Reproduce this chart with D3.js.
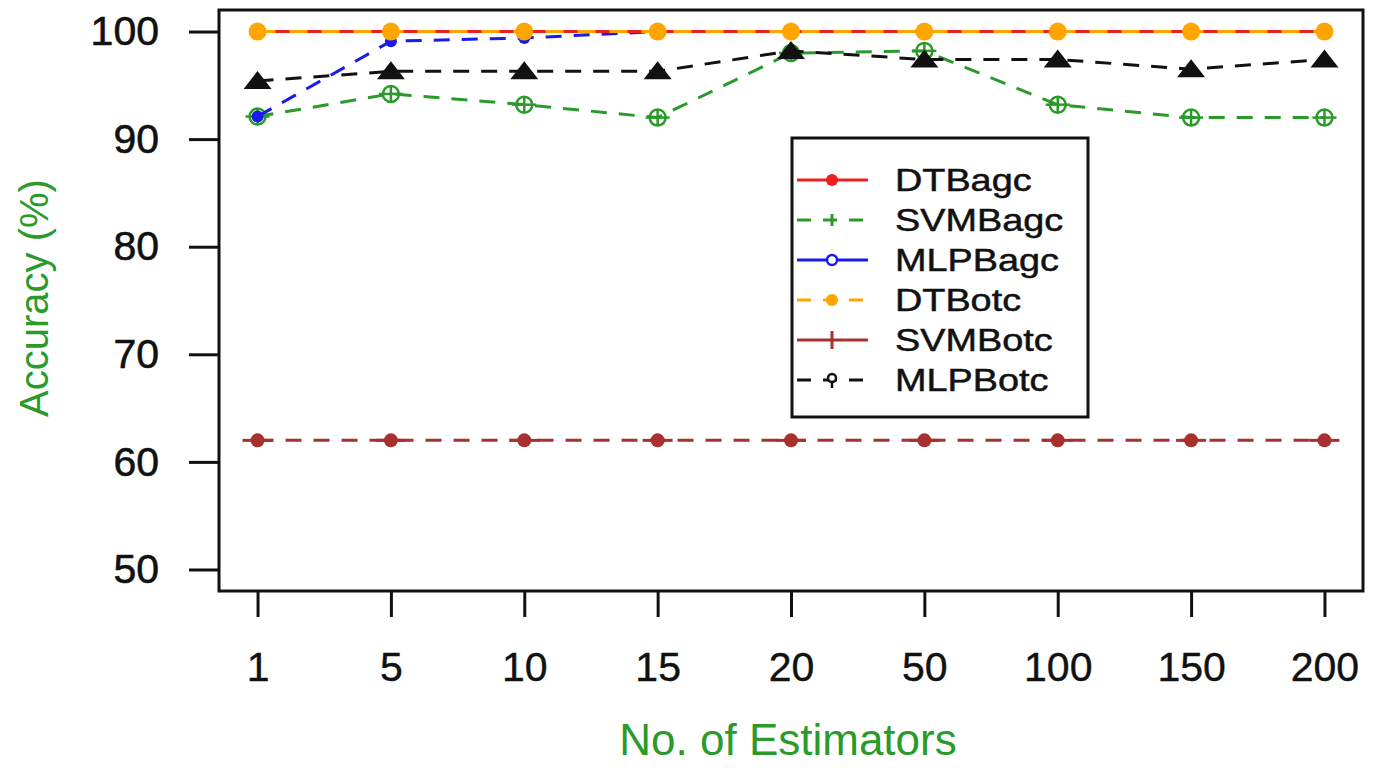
<!DOCTYPE html>
<html>
<head>
<meta charset="utf-8">
<script src="https://cdn.jsdelivr.net/npm/d3@7"></script>
<style>
  body { margin: 0; background: #fff; }
  text { font-family: "Liberation Sans", Arial, sans-serif; }
</style>
</head>
<body>
<div id="chart"></div>
<script>
// Data
const estimators = ['1', '5', '10', '15', '20', '50', '100', '150', '200'];
const yTicks = [50, 60, 70, 80, 90, 100];

const dtBagc  = [100, 100, 100, 100, 100, 100, 100, 100, 100];
const svmBagc = [92.1, 94.2, 93.2, 92.0, 98.0, 98.2, 93.2, 92.0, 92.0];
const mlpBagc = [92.1, 99.1, 99.4, 100, 100, 100, 100, 100, 100];
const dtBotc  = [100, 100, 100, 100, 100, 100, 100, 100, 100];
const svmBotc = [62, 62, 62, 62, 62, 62, 62, 62, 62];
const mlpBotc = [95.4, 96.3, 96.3, 96.3, 98.2, 97.4, 97.4, 96.5, 97.4];

const seriesNames = ['DTBagc', 'SVMBagc', 'MLPBagc', 'DTBotc', 'SVMBotc', 'MLPBotc'];

// Configuration
const width = 1379;
const height = 768;
const green = '#2a9a2a';
const colors = {
    DTBagc: '#f01e1e', SVMBagc: green, MLPBagc: '#1a1aee',
    DTBotc: '#ffa500', SVMBotc: '#a8302f', MLPBotc: '#111'
};

const svg = d3.select('#chart')
    .append('svg')
    .attr('width', width)
    .attr('height', height);

const x = d3.scalePoint()
    .domain(estimators)
    .range([219, 1363])
    .padding(0.289);

const y = d3.scaleLinear()
    .domain([48, 102])
    .range([591, 10]);

// Axes
const yAxis = svg.append('g')
    .attr('transform', 'translate(219,0)')
    .call(d3.axisLeft(y).tickValues(yTicks).tickSize(30).tickPadding(30));
yAxis.select('.domain').remove();
yAxis.selectAll('line').attr('stroke', '#111').attr('stroke-width', 3);
yAxis.selectAll('text').attr('font-size', 41).attr('fill', '#111')
    .attr('stroke', '#111').attr('stroke-width', 0.6)
    .attr('font-family', '"Liberation Sans", Arial, sans-serif');

const xAxis = svg.append('g')
    .attr('transform', 'translate(0,591)')
    .call(d3.axisBottom(x).tickSize(26).tickPadding(35));
xAxis.select('.domain').remove();
xAxis.selectAll('line').attr('stroke', '#111').attr('stroke-width', 3);
xAxis.selectAll('text').attr('font-size', 41).attr('fill', '#111')
    .attr('stroke', '#111').attr('stroke-width', 0.4)
    .attr('font-family', '"Liberation Sans", Arial, sans-serif');

// Plot box
svg.append('rect')
    .attr('x', x.range()[0])
    .attr('y', y.range()[1])
    .attr('width', x.range()[1] - x.range()[0])
    .attr('height', y.range()[0] - y.range()[1])
    .attr('fill', 'none')
    .attr('stroke', '#111')
    .attr('stroke-width', 3);

// Axis titles
svg.append('text')
    .attr('x', 788)
    .attr('y', 755)
    .attr('text-anchor', 'middle')
    .attr('font-size', 44)
    .attr('fill', green)
    .text('No. of Estimators');

svg.append('text')
    .attr('transform', 'translate(48,298) rotate(-90)')
    .attr('text-anchor', 'middle')
    .attr('font-size', 40)
    .attr('fill', green)
    .text('Accuracy (%)');

// Lines and markers
const line = d3.line()
    .x((d, i) => x(estimators[i]))
    .y(d => y(d));

const plotSeries = [
    {name: 'SVMBotc', values: svmBotc, dash: '16,12', marker: 'dotbar'},
    {name: 'SVMBagc', values: svmBagc, dash: '16,12', marker: 'circleplus'},
    {name: 'MLPBagc', values: mlpBagc, dash: '16,12', marker: 'smallcircle'},
    {name: 'MLPBotc', values: mlpBotc, dash: '16,12', marker: 'triangle'},
    {name: 'DTBagc', values: dtBagc, dash: null, marker: 'dot'},
    {name: 'DTBotc', values: dtBotc, dash: '18,14', marker: 'bigdot'}
];

plotSeries.forEach(s => {
    const col = colors[s.name];
    const g = svg.append('g').attr('class', 'series');
    g.append('path')
        .datum(s.values)
        .attr('d', line)
        .attr('fill', 'none')
        .attr('stroke', col)
        .attr('stroke-width', 3)
        .attr('stroke-dasharray', s.dash);

    const pts = g.selectAll('g.pt')
        .data(s.values)
        .join('g')
        .attr('transform', (d, i) => `translate(${x(estimators[i])},${y(d)})`);

    if (s.marker === 'bigdot') {
        pts.append('circle').attr('r', 9).attr('fill', col);
    } else if (s.marker === 'dot') {
        pts.append('circle').attr('r', 7).attr('fill', col);
    } else if (s.marker === 'smallcircle') {
        pts.append('circle').attr('r', 6).attr('fill', col);
    } else if (s.marker === 'dotbar') {
        pts.append('circle').attr('r', 7).attr('fill', col);
        pts.append('line').attr('x1', -15).attr('x2', 15)
            .attr('stroke', col).attr('stroke-width', 3);
    } else if (s.marker === 'triangle') {
        pts.append('path').attr('d', 'M-14,8L14,8L0,-10Z').attr('fill', col);
    } else if (s.marker === 'circleplus') {
        pts.append('circle').attr('r', 8).attr('fill', 'none')
            .attr('stroke', col).attr('stroke-width', 2.5);
        pts.append('line').attr('x1', -12).attr('x2', 12)
            .attr('stroke', col).attr('stroke-width', 2.5);
        pts.append('line').attr('y1', -8).attr('y2', 8)
            .attr('stroke', col).attr('stroke-width', 2.5);
    }
});

// Legend
const legend = svg.append('g');
legend.append('rect')
    .attr('x', 792).attr('y', 138)
    .attr('width', 296).attr('height', 279)
    .attr('fill', '#fff')
    .attr('stroke', '#111')
    .attr('stroke-width', 3);

const legendStyle = {
    DTBagc: {dash: null, marker: 'dot'},
    SVMBagc: {dash: '14,12', marker: 'plus'},
    MLPBagc: {dash: null, marker: 'ring'},
    DTBotc: {dash: '14,12', marker: 'dot'},
    SVMBotc: {dash: null, marker: 'bar'},
    MLPBotc: {dash: '14,12', marker: 'ringbar'}
};

const items = legend.selectAll('g.item')
    .data(seriesNames)
    .join('g')
    .attr('transform', (d, i) => `translate(0,${180 + i * 40})`);

items.append('line')
    .attr('x1', 797).attr('x2', 868)
    .attr('stroke', d => colors[d])
    .attr('stroke-width', 3)
    .attr('stroke-dasharray', d => legendStyle[d].dash);

items.each(function(d) {
    const g = d3.select(this);
    const col = colors[d];
    const m = legendStyle[d].marker;
    if (m === 'dot') {
        g.append('circle').attr('cx', 832).attr('r', 6).attr('fill', col);
    } else if (m === 'ring') {
        g.append('circle').attr('cx', 832).attr('r', 5).attr('fill', '#fff')
            .attr('stroke', col).attr('stroke-width', 2.5);
    } else if (m === 'plus') {
        g.append('line').attr('x1', 832).attr('x2', 832).attr('y1', -6).attr('y2', 6)
            .attr('stroke', col).attr('stroke-width', 3);
    } else if (m === 'bar') {
        g.append('line').attr('x1', 832).attr('x2', 832).attr('y1', -9).attr('y2', 9)
            .attr('stroke', col).attr('stroke-width', 3);
    } else if (m === 'ringbar') {
        g.append('circle').attr('cx', 832).attr('cy', -2).attr('r', 4).attr('fill', '#fff')
            .attr('stroke', col).attr('stroke-width', 2.5);
        g.append('line').attr('x1', 832).attr('x2', 832).attr('y1', 2).attr('y2', 8)
            .attr('stroke', col).attr('stroke-width', 2.5);
    }
});

// legend labels are drawn wider than normal in the original
items.append('text')
    .attr('transform', 'translate(895,11) scale(1.22,1)')
    .attr('font-size', 31)
    .attr('fill', '#111')
    .attr('stroke', '#111')
    .attr('stroke-width', 0.5)
    .text(d => d);
</script>
</body>
</html>
